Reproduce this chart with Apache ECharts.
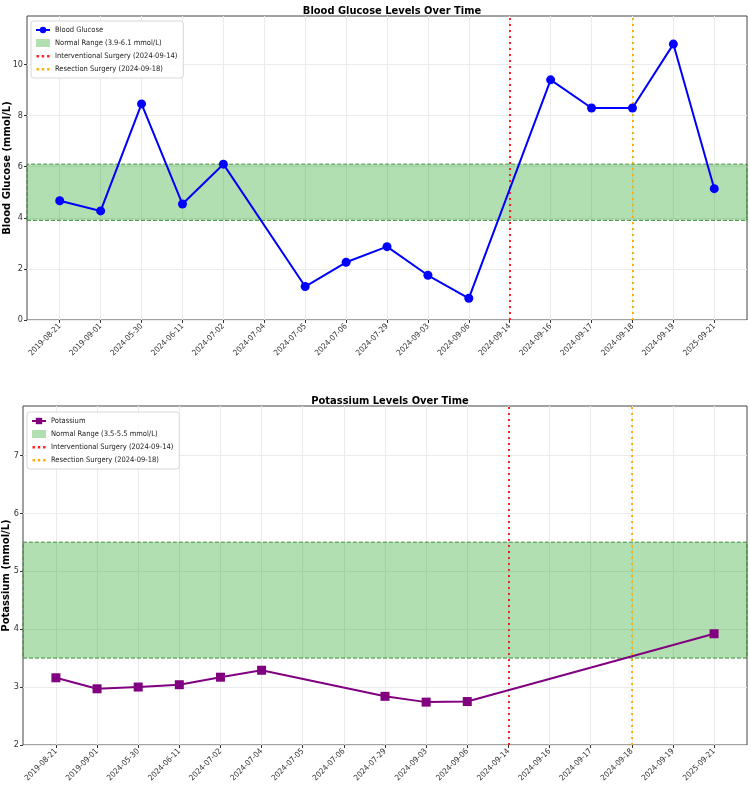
<!DOCTYPE html>
<html>
<head>
<meta charset="utf-8">
<script src="https://cdn.jsdelivr.net/npm/echarts@6/dist/echarts.min.js"></script>
<style>
  html, body { margin: 0; padding: 0; background: #fff; }
  #chart { width: 750px; height: 800px; }
</style>
</head>
<body>
<div id="chart"></div>
<script>
// dates shown on both x axes
const categories = [
  "2019-08-21", "2019-09-01", "2024-05-30", "2024-06-11", "2024-07-02", "2024-07-04",
  "2024-07-05", "2024-07-06", "2024-07-29", "2024-09-03", "2024-09-06", "2024-09-14",
  "2024-09-16", "2024-09-17", "2024-09-18", "2024-09-19", "2025-09-21"
];
// mmol/L, null = not measured that day
const glucose = [4.67, 4.27, 8.46, 4.54, 6.1, null, 1.31, 2.26, 2.87, 1.75, 0.85, null, 9.4, 8.3, 8.3, 10.8, 5.14];
const potassium = [3.16, 2.97, 3.0, 3.04, 3.17, 3.29, null, null, 2.84, 2.74, 2.75, null, null, null, null, null, 3.92];

const glucoseRange = [3.9, 6.1];
const potassiumRange = [3.5, 5.5];
const glucoseTicks = [0, 2, 4, 6, 8, 10];
const potassiumTicks = [2, 3, 4, 5, 6, 7];
const surgeries = [
  { name: "Interventional Surgery (2024-09-14)", date: "2024-09-14", color: "#ff2020" },
  { name: "Resection Surgery (2024-09-18)", date: "2024-09-18", color: "#ffb000" }
];

const FONT = "'DejaVu Sans Condensed', 'DejaVu Sans', sans-serif";
const idx = categories.map((c, i) => i);
const toPairs = arr => arr.map((v, i) => [i, v == null ? "-" : v]);
// three dots, with two tiny corner squares so the icon keeps its shape
const DOTS = "path://M0,0h0.01v0.01h-0.01z M14,8h0.01v0.01h-0.01z M0.5,3h2.4v2.4h-2.4z M5.8,3h2.4v2.4h-2.4z M11.1,3h2.4v2.4h-2.4z";

function xAxisFor(gridIndex) {
  return {
    type: "value", gridIndex: gridIndex, min: -0.8, max: 16.8,
    axisLine: { show: false, onZero: false },
    axisTick: { show: true, length: 3, customValues: idx, lineStyle: { color: "#333" } },
    axisLabel: {
      customValues: idx, rotate: 45, fontSize: 8, color: "#333", fontFamily: FONT, margin: 5,
      formatter: v => categories[Math.round(v)]
    },
    splitLine: { show: true, lineStyle: { color: "#ebebeb", width: 1 } }
  };
}

function yAxisFor(gridIndex, min, max, ticks, name, gap) {
  return {
    type: "value", gridIndex: gridIndex, min: min, max: max,
    name: name, nameLocation: "middle", nameGap: gap, nameMoveOverlap: false,
    nameTextStyle: { fontSize: 10, fontWeight: "bold", color: "#000", fontFamily: "'DejaVu Sans', sans-serif" },
    axisLine: { show: false, onZero: false },
    axisTick: { show: true, length: 3, customValues: ticks, lineStyle: { color: "#333" } },
    axisLabel: { customValues: ticks, fontSize: 9, color: "#333", fontFamily: FONT, margin: 4 },
    splitLine: { show: true, lineStyle: { color: "#ebebeb", width: 1 } }
  };
}

function helperSeries(gridIndex, range, rangeName) {
  const out = [{
    name: rangeName, type: "line", xAxisIndex: gridIndex, yAxisIndex: gridIndex,
    data: [], symbol: "none",
    itemStyle: { color: "rgba(0,150,0,0.3)" },
    markArea: {
      silent: true,
      itemStyle: { color: "rgba(0,150,0,0.3)", borderColor: "#3c8c3c", borderWidth: 1, borderType: "dashed" },
      data: [[{ yAxis: range[0] }, { yAxis: range[1] }]]
    }
  }];
  surgeries.forEach(s => {
    out.push({
      name: s.name, type: "line", xAxisIndex: gridIndex, yAxisIndex: gridIndex,
      data: [], symbol: "none",
      itemStyle: { color: s.color },
      lineStyle: { color: s.color, width: 2 },
      markLine: {
        silent: true, symbol: ["none", "none"], label: { show: false },
        lineStyle: { color: s.color, type: [2, 4], width: 2 },
        data: [{ xAxis: categories.indexOf(s.date) }]
      }
    });
  });
  return out;
}

function legendFor(left, top, firstName, rangeName) {
  return {
    left: left, top: top, orient: "vertical",
    itemWidth: 14, itemHeight: 8, itemGap: 5,
    padding: [5, 6, 5, 4],
    backgroundColor: "rgba(255,255,255,0.85)",
    borderColor: "#d8d8d8", borderWidth: 1, borderRadius: 3,
    textStyle: { fontSize: 7.5, color: "#222", fontFamily: FONT },
    data: [
      { name: firstName },
      { name: rangeName, icon: "rect" },
      { name: surgeries[0].name, icon: DOTS },
      { name: surgeries[1].name, icon: DOTS }
    ]
  };
}

const chart = echarts.init(document.getElementById("chart"));
const gRange = "Normal Range (3.9-6.1 mmol/L)";
const kRange = "Normal Range (3.5-5.5 mmol/L)";

chart.setOption({
  animation: false,
  backgroundColor: "#fff",
  title: [
    { text: "Blood Glucose Levels Over Time", left: 387, top: 1, textAlign: "center",
      textStyle: { fontSize: 11, fontWeight: "bold", color: "#000", fontFamily: FONT } },
    { text: "Potassium Levels Over Time", left: 385, top: 391, textAlign: "center",
      textStyle: { fontSize: 11, fontWeight: "bold", color: "#000", fontFamily: FONT } }
  ],
  legend: [
    legendFor(31, 21, "Blood Glucose", gRange),
    legendFor(27, 412, "Potassium", kRange)
  ],
  grid: [
    { left: 27, right: 3, top: 16, height: 304, outerBoundsMode: "none", containLabel: false,
      show: true, borderColor: "#444", borderWidth: 1, backgroundColor: "transparent" },
    { left: 23, right: 3, top: 406, height: 339, outerBoundsMode: "none", containLabel: false,
      show: true, borderColor: "#444", borderWidth: 1, backgroundColor: "transparent" }
  ],
  xAxis: [xAxisFor(0), xAxisFor(1)],
  yAxis: [
    yAxisFor(0, 0, 11.9, glucoseTicks, "Blood Glucose (mmol/L)", 15),
    yAxisFor(1, 2, 7.85, potassiumTicks, "Potassium (mmol/L)", 12)
  ],
  series: [
    ...helperSeries(0, glucoseRange, gRange),
    {
      name: "Blood Glucose", type: "line", xAxisIndex: 0, yAxisIndex: 0,
      data: toPairs(glucose), connectNulls: true,
      symbol: "circle", symbolSize: 9,
      itemStyle: { color: "#0000ff" }, lineStyle: { color: "#0000ff", width: 2 }, z: 5
    },
    ...helperSeries(1, potassiumRange, kRange),
    {
      name: "Potassium", type: "line", xAxisIndex: 1, yAxisIndex: 1,
      data: toPairs(potassium), connectNulls: true,
      symbol: "rect", symbolSize: 9,
      itemStyle: { color: "#800080" }, lineStyle: { color: "#800080", width: 2 }, z: 5
    }
  ]
});
</script>
</body>
</html>
